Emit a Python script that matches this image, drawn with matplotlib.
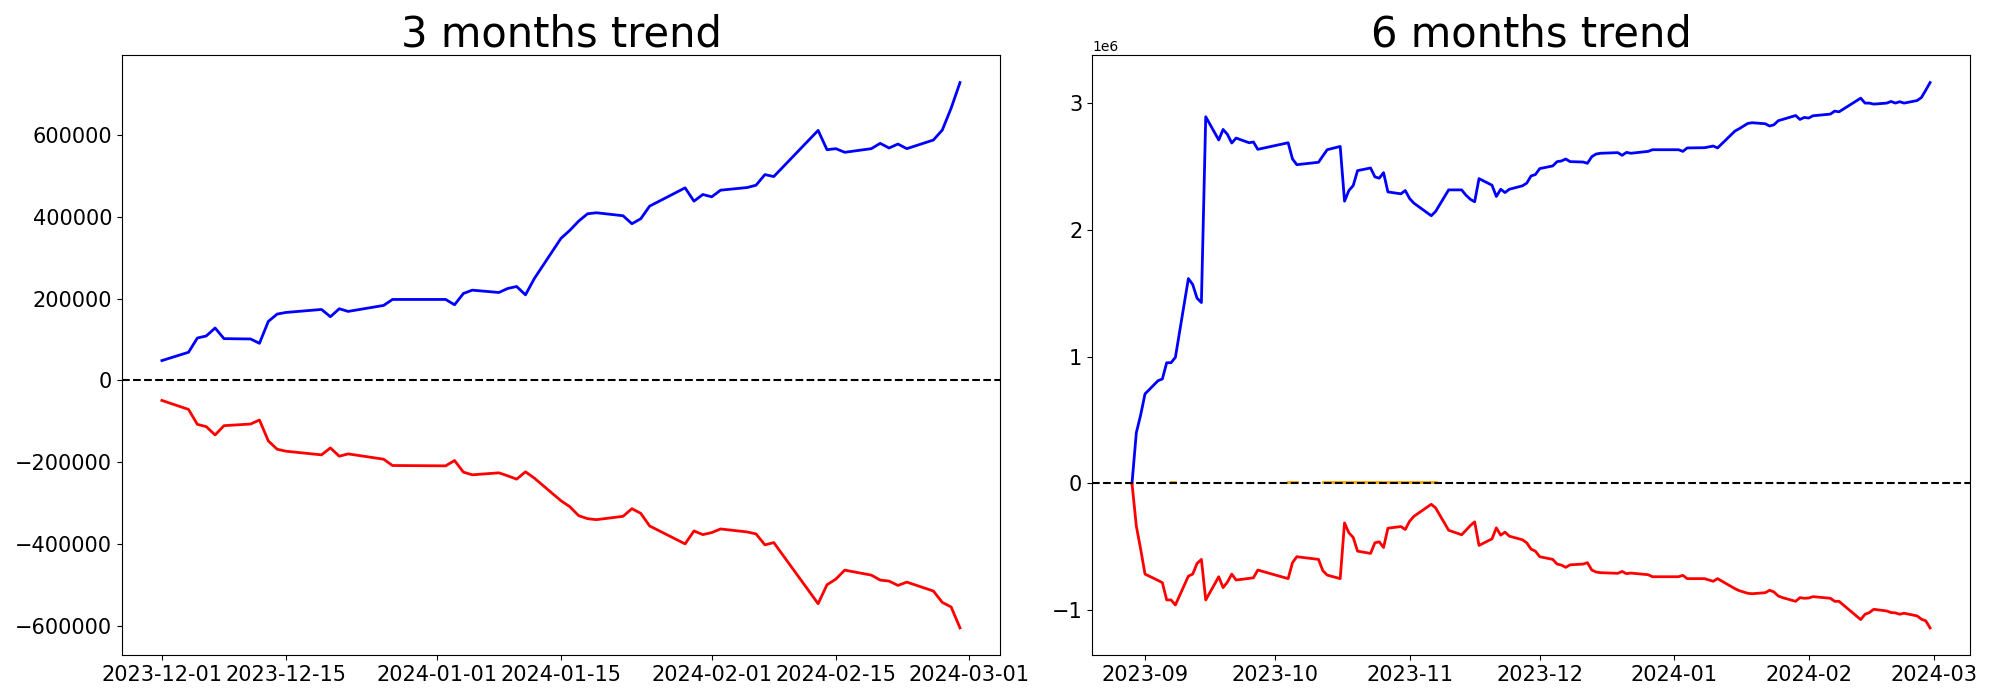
import matplotlib
matplotlib.use("Agg")

import matplotlib.pyplot as plt
import numpy as np
import pandas as pd

# ---- 3 months window ----
DATES_3M = [
    "2023-12-01", "2023-12-04", "2023-12-05", "2023-12-06", "2023-12-07", "2023-12-08",
    "2023-12-11", "2023-12-12", "2023-12-13", "2023-12-14", "2023-12-15",
    "2023-12-19", "2023-12-20", "2023-12-21", "2023-12-22", "2023-12-26", "2023-12-27",
    "2024-01-02", "2024-01-03", "2024-01-04", "2024-01-05",
    "2024-01-08", "2024-01-09", "2024-01-10", "2024-01-11", "2024-01-12",
    "2024-01-15", "2024-01-16", "2024-01-17", "2024-01-18", "2024-01-19",
    "2024-01-22", "2024-01-23", "2024-01-24", "2024-01-25",
    "2024-01-29", "2024-01-30", "2024-01-31", "2024-02-01", "2024-02-02",
    "2024-02-05", "2024-02-06", "2024-02-07", "2024-02-08",
    "2024-02-13", "2024-02-14", "2024-02-15", "2024-02-16",
    "2024-02-19", "2024-02-20", "2024-02-21", "2024-02-22", "2024-02-23",
    "2024-02-26", "2024-02-27", "2024-02-28", "2024-02-29",
]
BUY_3M = [
    48660, 68900, 103800, 108700, 128200, 102200,
    101400, 90800, 144300, 162200, 166200,
    173500, 155700, 175200, 168700, 183300, 197900,
    197900, 184900, 212500, 220600,
    214900, 224700, 229500, 209200, 249000,
    347100, 366600, 389300, 407100, 409600,
    402300, 382800, 395000, 425800,
    470400, 437900, 454200, 448500, 464700,
    471200, 476900, 502800, 498000,
    610700, 563600, 566100, 557200,
    566100, 579100, 567700, 577400, 566100,
    587200, 611500, 665000, 727500,
]
SELL_3M = [
    -48700, -70600, -107100, -112700, -133000, -110300,
    -106300, -96500, -147600, -167900, -172700,
    -181600, -164600, -184900, -179200, -192200, -207600,
    -208400, -195400, -223800, -230300,
    -225500, -232800, -240900, -223000, -238400,
    -293600, -308200, -330100, -337400, -339800,
    -331700, -313000, -324400, -355200,
    -399000, -367400, -376300, -371400, -362500,
    -369800, -374700, -401400, -395800,
    -545000, -498800, -485000, -463100,
    -475200, -487400, -489800, -500400, -492300,
    -514100, -541800, -553000, -604200,
]

# ---- 6 months window (values in millions) ----
DATES_6M = [
    "2023-08-29", "2023-08-30", "2023-08-31", "2023-09-01",
    "2023-09-04", "2023-09-05", "2023-09-06", "2023-09-07", "2023-09-08",
    "2023-09-11", "2023-09-12", "2023-09-13", "2023-09-14", "2023-09-15",
    "2023-09-18", "2023-09-19", "2023-09-20", "2023-09-21", "2023-09-22",
    "2023-09-25", "2023-09-26", "2023-09-27",
    "2023-10-04", "2023-10-05", "2023-10-06",
    "2023-10-11", "2023-10-12", "2023-10-13",
    "2023-10-16", "2023-10-17", "2023-10-18", "2023-10-19", "2023-10-20",
    "2023-10-23", "2023-10-24", "2023-10-25", "2023-10-26", "2023-10-27",
    "2023-10-30", "2023-10-31", "2023-11-01", "2023-11-02",
    "2023-11-06", "2023-11-07", "2023-11-10",
    "2023-11-13", "2023-11-14", "2023-11-15", "2023-11-16", "2023-11-17",
    "2023-11-20", "2023-11-21", "2023-11-22", "2023-11-23", "2023-11-24",
    "2023-11-27", "2023-11-28", "2023-11-29", "2023-11-30", "2023-12-01",
    "2023-12-04", "2023-12-05", "2023-12-06", "2023-12-07", "2023-12-08",
    "2023-12-11", "2023-12-12", "2023-12-13", "2023-12-14", "2023-12-15",
    "2023-12-19", "2023-12-20", "2023-12-21", "2023-12-22",
    "2023-12-26", "2023-12-27",
    "2024-01-02", "2024-01-03", "2024-01-04",
    "2024-01-08", "2024-01-10", "2024-01-11",
    "2024-01-15", "2024-01-16", "2024-01-18", "2024-01-19",
    "2024-01-22", "2024-01-23", "2024-01-24", "2024-01-25", "2024-01-26",
    "2024-01-29", "2024-01-30", "2024-01-31", "2024-02-01", "2024-02-02",
    "2024-02-06", "2024-02-07", "2024-02-08",
    "2024-02-13", "2024-02-14", "2024-02-15", "2024-02-16",
    "2024-02-19", "2024-02-20", "2024-02-21", "2024-02-22", "2024-02-23",
    "2024-02-26", "2024-02-27", "2024-02-28", "2024-02-29",
]
BUY_6M = [
    0.0, 0.40, 0.54, 0.706,
    0.810, 0.824, 0.952, 0.952, 0.994,
    1.616, 1.569, 1.461, 1.427, 2.893,
    2.710, 2.793, 2.754, 2.686, 2.725,
    2.688, 2.694, 2.636,
    2.688, 2.560, 2.515,
    2.534, 2.584, 2.633,
    2.659, 2.227, 2.311, 2.350, 2.468,
    2.489, 2.419, 2.408, 2.452, 2.300,
    2.285, 2.311, 2.248, 2.211,
    2.112, 2.146, 2.316,
    2.316, 2.274, 2.242, 2.222, 2.405,
    2.353, 2.264, 2.321, 2.295, 2.321,
    2.348, 2.369, 2.426, 2.437, 2.484,
    2.505, 2.539, 2.544, 2.560, 2.539,
    2.536, 2.526, 2.578, 2.599, 2.605,
    2.610, 2.589, 2.612, 2.605,
    2.620, 2.633,
    2.633, 2.620, 2.647,
    2.649, 2.662, 2.647,
    2.780, 2.799, 2.841, 2.846,
    2.838, 2.820, 2.830, 2.862, 2.872,
    2.903, 2.872, 2.888, 2.883, 2.901,
    2.914, 2.938, 2.932,
    3.040, 3.001, 3.001, 2.993,
    3.001, 3.014, 3.001, 3.012, 3.001,
    3.021, 3.045, 3.103, 3.163,
]
SELL_6M = [
    0.0, -0.338, -0.52, -0.716,
    -0.766, -0.784, -0.920, -0.920, -0.960,
    -0.732, -0.716, -0.632, -0.600, -0.920,
    -0.737, -0.823, -0.779, -0.716, -0.763,
    -0.750, -0.745, -0.684,
    -0.752, -0.626, -0.579,
    -0.600, -0.689, -0.724,
    -0.752, -0.312, -0.390, -0.427, -0.535,
    -0.553, -0.469, -0.461, -0.506, -0.354,
    -0.341, -0.364, -0.299, -0.260,
    -0.165, -0.194, -0.370,
    -0.406, -0.370, -0.333, -0.304, -0.490,
    -0.438, -0.351, -0.409, -0.385, -0.417,
    -0.445, -0.469, -0.519, -0.535, -0.579,
    -0.600, -0.637, -0.645, -0.663, -0.643,
    -0.637, -0.626, -0.684, -0.700, -0.705,
    -0.710, -0.695, -0.713, -0.708,
    -0.721, -0.737,
    -0.737, -0.726, -0.752,
    -0.752, -0.773, -0.752,
    -0.831, -0.847, -0.868, -0.871,
    -0.863, -0.844, -0.857, -0.889, -0.902,
    -0.931, -0.902, -0.907, -0.905, -0.894,
    -0.907, -0.931, -0.931,
    -1.075, -1.033, -1.020, -0.994,
    -1.007, -1.020, -1.022, -1.033, -1.025,
    -1.046, -1.072, -1.085, -1.141,
]
# small net line, only present on a few stretches (None = gap)
NET_DATES_6M = [
    "2023-09-07", "2023-09-08", "2023-09-11",
    "2023-10-04", "2023-10-05", "2023-10-06", "2023-10-11",
    "2023-10-12", "2023-10-13", "2023-10-16", "2023-10-17", "2023-10-18",
    "2023-10-19", "2023-10-20", "2023-10-23", "2023-10-24", "2023-10-25",
    "2023-10-26", "2023-10-27", "2023-10-30", "2023-10-31", "2023-11-01",
    "2023-11-02", "2023-11-06", "2023-11-07",
]
NET_6M = [
    0.010, 0.010, None,
    0.010, 0.010, 0.010, None,
    0.010, 0.010, 0.010, 0.010, 0.010,
    0.010, 0.010, 0.010, 0.010, 0.010,
    0.010, 0.010, 0.010, 0.010, 0.010,
    0.010, 0.010, 0.010,
]


def draw_panel(ax, dates, buy, sell, title, net_dates=None, net=None):
    x = pd.to_datetime(dates)
    if net is not None:
        ax.plot(pd.to_datetime(net_dates), np.array(net, dtype=float), color="orange", linewidth=2)
    ax.plot(x, buy, color="blue", linewidth=2)
    ax.plot(x, sell, color="red", linewidth=2)
    ax.axhline(0, color="black", linestyle="--", linewidth=1.5)
    ax.set_title(title, fontsize=30)
    ax.tick_params(labelsize=15)


fig, (ax1, ax2) = plt.subplots(1, 2, figsize=(20, 7), dpi=100)
draw_panel(ax1, DATES_3M, BUY_3M, SELL_3M, "3 months trend")
draw_panel(ax2, DATES_6M, np.array(BUY_6M) * 1e6, np.array(SELL_6M) * 1e6, "6 months trend",
           NET_DATES_6M, np.array(NET_6M, dtype=float) * 1e6)

plt.subplots_adjust(left=0.061, right=0.985, bottom=0.064, top=0.921, wspace=0.105)
plt.savefig("out.png", dpi=100)
plt.close(fig)
